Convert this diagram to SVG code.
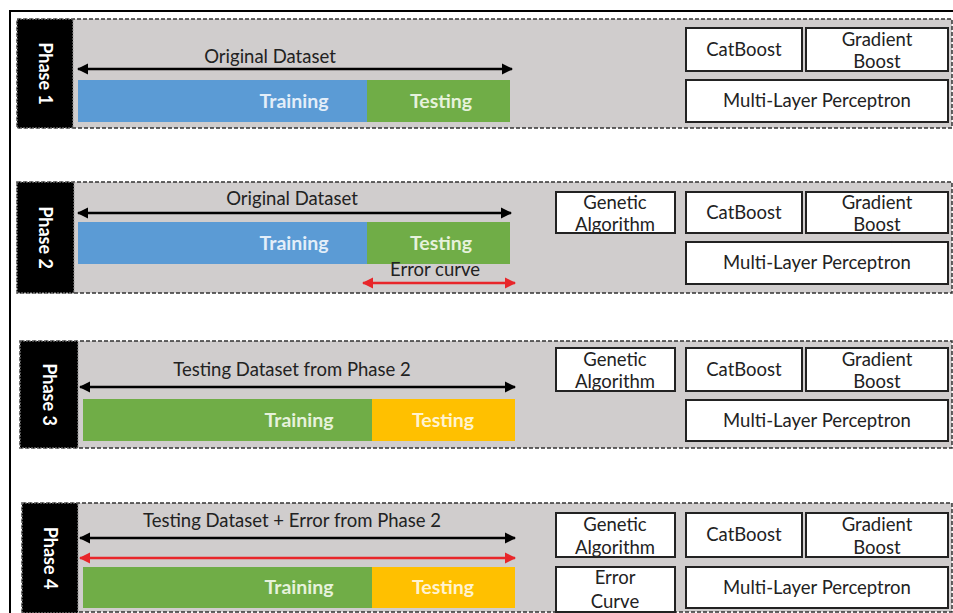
<svg xmlns="http://www.w3.org/2000/svg" width="953" height="613" viewBox="0 0 953 613">
<defs>
<marker id="ab" viewBox="0 0 10 10" refX="9" refY="5" markerWidth="4.5" markerHeight="4.5" orient="auto-start-reverse"><path d="M0,0 L10,5 L0,10 z" fill="#000"/></marker>
<marker id="ar" viewBox="0 0 10 10" refX="9" refY="5" markerWidth="4.5" markerHeight="4.5" orient="auto-start-reverse"><path d="M0,0 L10,5 L0,10 z" fill="#e8262a"/></marker>
</defs>
<style>
.panel{fill:#d0cdcd;stroke:#333;stroke-width:1.5;stroke-dasharray:4 2}
.lab{fill:#000;stroke:#999;stroke-width:1;stroke-dasharray:2 1}
.ph{font-family:Lato,"Open Sans",sans-serif;font-size:18px;font-weight:bold;fill:#fff}
.t{font-family:Lato,"Open Sans",sans-serif;font-size:18.5px;fill:#222}
.bt{font-family:Lato,"Open Sans",sans-serif;font-size:19.5px;font-weight:bold}
.box{fill:#fff;stroke:#222;stroke-width:2}
.blue{fill:#5b9bd5}.green{fill:#70ad47}.yellow{fill:#ffc000}
.ab{stroke:#000;stroke-width:2.5;fill:none}
.ar{stroke:#e8262a;stroke-width:2.5;fill:none}
</style>
<rect x="0" y="0" width="953" height="613" fill="#fff"/>
<rect x="10" y="11" width="960" height="620" fill="none" stroke="#000" stroke-width="2"/>

<!-- Phase 1 -->
<g id="phase1">
<rect class="panel" x="17" y="19" width="935" height="109"/>
<rect class="lab" x="17" y="19" width="56" height="109"/>
<text class="ph" transform="translate(45,73.5) rotate(90)" text-anchor="middle" dy="6">Phase 1</text>
<text class="t" x="270" y="63" text-anchor="middle">Original Dataset</text>
<rect class="blue" x="78" y="80" width="290" height="42"/>
<rect class="green" x="367" y="80" width="143" height="42"/>
<text class="bt" x="294" y="108" text-anchor="middle" fill="#e3eef9">Training</text>
<text class="bt" x="441" y="108" text-anchor="middle" fill="#e6f2dc">Testing</text>
</g>
<g id="p1-catboost"><rect class="box" x="686" y="28" width="116" height="43"/><text class="t" x="744" y="56" text-anchor="middle">CatBoost</text></g>
<g id="p1-gradient"><rect class="box" x="806" y="28" width="142" height="43"/><text class="t" x="877" y="46" text-anchor="middle">Gradient</text><text class="t" x="877" y="68" text-anchor="middle">Boost</text></g>
<g id="p1-mlp"><rect class="box" x="686" y="80" width="262" height="42"/><text class="t" x="817" y="107" text-anchor="middle">Multi-Layer Perceptron</text></g>

<!-- Phase 2 -->
<g id="phase2">
<rect class="panel" x="17" y="182" width="935" height="111"/>
<rect class="lab" x="17" y="182" width="57" height="111"/>
<text class="ph" transform="translate(45,237.5) rotate(90)" text-anchor="middle" dy="6">Phase 2</text>
<text class="t" x="292" y="205" text-anchor="middle">Original Dataset</text>
<rect class="blue" x="78" y="222" width="290" height="42"/>
<rect class="green" x="367" y="222" width="143" height="42"/>
<text class="bt" x="294" y="250" text-anchor="middle" fill="#e3eef9">Training</text>
<text class="bt" x="441" y="250" text-anchor="middle" fill="#e6f2dc">Testing</text>
<text class="t" x="435" y="276" text-anchor="middle">Error curve</text>
</g>
<g id="p2-genetic"><rect class="box" x="556" y="192" width="119" height="41"/><text class="t" x="615" y="209" text-anchor="middle">Genetic</text><text class="t" x="615" y="231" text-anchor="middle">Algorithm</text></g>
<g id="p2-catboost"><rect class="box" x="686" y="192" width="116" height="41"/><text class="t" x="744" y="219" text-anchor="middle">CatBoost</text></g>
<g id="p2-gradient"><rect class="box" x="806" y="192" width="142" height="41"/><text class="t" x="877" y="209" text-anchor="middle">Gradient</text><text class="t" x="877" y="231" text-anchor="middle">Boost</text></g>
<g id="p2-mlp"><rect class="box" x="686" y="242" width="262" height="42"/><text class="t" x="817" y="269" text-anchor="middle">Multi-Layer Perceptron</text></g>

<!-- Phase 3 -->
<g id="phase3">
<rect class="panel" x="20" y="341" width="932" height="107"/>
<rect class="lab" x="20" y="341" width="58" height="107"/>
<text class="ph" transform="translate(49,394.5) rotate(90)" text-anchor="middle" dy="6">Phase 3</text>
<text class="t" x="292" y="376" text-anchor="middle">Testing Dataset from Phase 2</text>
<rect class="green" x="83" y="399" width="290" height="42"/>
<rect class="yellow" x="372" y="399" width="143" height="42"/>
<text class="bt" x="299" y="427" text-anchor="middle" fill="#e6f2dc">Training</text>
<text class="bt" x="443" y="427" text-anchor="middle" fill="#fff3d0">Testing</text>
</g>
<g id="p3-genetic"><rect class="box" x="556" y="348" width="119" height="43"/><text class="t" x="615" y="366" text-anchor="middle">Genetic</text><text class="t" x="615" y="388" text-anchor="middle">Algorithm</text></g>
<g id="p3-catboost"><rect class="box" x="686" y="348" width="116" height="43"/><text class="t" x="744" y="376" text-anchor="middle">CatBoost</text></g>
<g id="p3-gradient"><rect class="box" x="806" y="348" width="142" height="43"/><text class="t" x="877" y="366" text-anchor="middle">Gradient</text><text class="t" x="877" y="388" text-anchor="middle">Boost</text></g>
<g id="p3-mlp"><rect class="box" x="686" y="400" width="262" height="41"/><text class="t" x="817" y="427" text-anchor="middle">Multi-Layer Perceptron</text></g>

<!-- Phase 4 -->
<g id="phase4">
<rect class="panel" x="22" y="503" width="930" height="109"/>
<rect class="lab" x="22" y="503" width="56" height="110"/>
<text class="ph" transform="translate(50,558) rotate(90)" text-anchor="middle" dy="6">Phase 4</text>
<text class="t" x="292" y="527" text-anchor="middle">Testing Dataset + Error from Phase 2</text>
<rect class="green" x="83" y="567" width="290" height="41"/>
<rect class="yellow" x="372" y="567" width="143" height="41"/>
<text class="bt" x="299" y="594" text-anchor="middle" fill="#e6f2dc">Training</text>
<text class="bt" x="443" y="594" text-anchor="middle" fill="#fff3d0">Testing</text>
</g>
<g id="p4-genetic"><rect class="box" x="556" y="513" width="119" height="44"/><text class="t" x="615" y="531" text-anchor="middle">Genetic</text><text class="t" x="615" y="554" text-anchor="middle">Algorithm</text></g>
<g id="p4-error"><rect class="box" x="556" y="567" width="119" height="45"/><text class="t" x="615" y="584" text-anchor="middle">Error</text><text class="t" x="615" y="608" text-anchor="middle">Curve</text></g>
<g id="p4-catboost"><rect class="box" x="686" y="513" width="116" height="44"/><text class="t" x="744" y="541" text-anchor="middle">CatBoost</text></g>
<g id="p4-gradient"><rect class="box" x="806" y="513" width="142" height="44"/><text class="t" x="877" y="531" text-anchor="middle">Gradient</text><text class="t" x="877" y="554" text-anchor="middle">Boost</text></g>
<g id="p4-mlp"><rect class="box" x="686" y="567" width="262" height="41"/><text class="t" x="817" y="594" text-anchor="middle">Multi-Layer Perceptron</text></g>

<g id="connectors">
<line class="ab" x1="78" y1="69" x2="512" y2="69" marker-start="url(#ab)" marker-end="url(#ab)"/>
<line class="ab" x1="78" y1="213" x2="511" y2="213" marker-start="url(#ab)" marker-end="url(#ab)"/>
<line class="ar" x1="363" y1="283" x2="515" y2="283" marker-start="url(#ar)" marker-end="url(#ar)"/>
<line class="ab" x1="80" y1="387" x2="515" y2="387" marker-start="url(#ab)" marker-end="url(#ab)"/>
<line class="ab" x1="80" y1="538" x2="515" y2="538" marker-start="url(#ab)" marker-end="url(#ab)"/>
<line class="ar" x1="80" y1="558" x2="515" y2="558" marker-start="url(#ar)" marker-end="url(#ar)"/>
</g>
</svg>
